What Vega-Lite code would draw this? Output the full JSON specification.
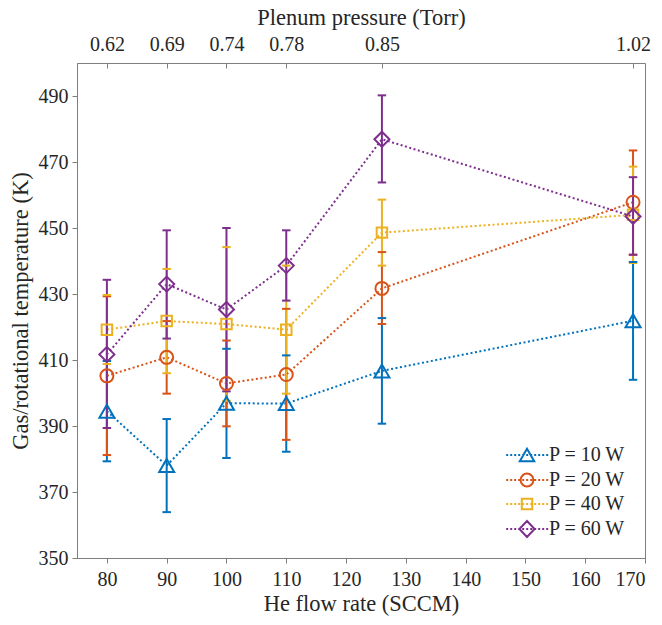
{
  "$schema": "https://vega.github.io/schema/vega-lite/v6.json",
  "width": 568,
  "height": 495,
  "autosize": {"type": "none"},
  "padding": {"left": 77, "top": 63, "right": 17, "bottom": 67},
  "background": "white",
  "config": {
    "view": {"stroke": "#7f7f7f", "strokeWidth": 1},
    "font": "Liberation Serif",
    "axis": {
      "labelFont": "Liberation Serif",
      "labelFontSize": 20,
      "labelColor": "#262626",
      "titleFont": "Liberation Serif",
      "titleFontSize": 22.5,
      "titleFontWeight": "normal",
      "titleColor": "#262626",
      "domainColor": "#7f7f7f",
      "tickColor": "#7f7f7f",
      "tickSize": 5,
      "grid": false
    },
    "legend": {
      "labelFont": "Liberation Serif",
      "labelFontSize": 20,
      "labelColor": "#262626"
    }
  },
  "data": {
    "values": [
      {"flow": 80, "series": "P = 10 W", "T": 394.5, "lo": 379.3, "hi": 409.7},
      {"flow": 90, "series": "P = 10 W", "T": 378.0, "lo": 363.9, "hi": 392.1},
      {"flow": 100, "series": "P = 10 W", "T": 396.9, "lo": 380.3, "hi": 413.4},
      {"flow": 110, "series": "P = 10 W", "T": 396.8, "lo": 382.2, "hi": 411.4},
      {"flow": 126, "series": "P = 10 W", "T": 406.7, "lo": 390.7, "hi": 422.7},
      {"flow": 168, "series": "P = 10 W", "T": 421.9, "lo": 404.0, "hi": 439.7},
      {"flow": 80, "series": "P = 20 W", "T": 405.2, "lo": 381.2, "hi": 429.3},
      {"flow": 90, "series": "P = 20 W", "T": 410.8, "lo": 399.8, "hi": 421.8},
      {"flow": 100, "series": "P = 20 W", "T": 402.9, "lo": 389.9, "hi": 415.9},
      {"flow": 110, "series": "P = 20 W", "T": 405.6, "lo": 385.8, "hi": 425.5},
      {"flow": 126, "series": "P = 20 W", "T": 431.7, "lo": 420.9, "hi": 442.7},
      {"flow": 168, "series": "P = 20 W", "T": 457.8, "lo": 441.9, "hi": 473.5},
      {"flow": 80, "series": "P = 40 W", "T": 419.2, "lo": 408.8, "hi": 429.7},
      {"flow": 90, "series": "P = 40 W", "T": 421.8, "lo": 406.0, "hi": 437.6},
      {"flow": 100, "series": "P = 40 W", "T": 420.9, "lo": 397.6, "hi": 444.2},
      {"flow": 110, "series": "P = 40 W", "T": 419.2, "lo": 399.8, "hi": 438.6},
      {"flow": 126, "series": "P = 40 W", "T": 448.6, "lo": 438.6, "hi": 458.6},
      {"flow": 168, "series": "P = 40 W", "T": 454.0, "lo": 439.4, "hi": 468.6},
      {"flow": 80, "series": "P = 60 W", "T": 411.7, "lo": 389.4, "hi": 434.3},
      {"flow": 90, "series": "P = 60 W", "T": 433.0, "lo": 416.5, "hi": 449.3},
      {"flow": 100, "series": "P = 60 W", "T": 425.3, "lo": 400.5, "hi": 450.0},
      {"flow": 110, "series": "P = 60 W", "T": 438.6, "lo": 428.0, "hi": 449.3},
      {"flow": 126, "series": "P = 60 W", "T": 476.9, "lo": 463.8, "hi": 490.2},
      {"flow": 168, "series": "P = 60 W", "T": 453.5, "lo": 441.9, "hi": 465.4}
    ]
  },
  "resolve": {"axis": {"x": "independent"}},
  "layer": [
    {
      "description": "Legend key layer: each series as a dotted line with its marker.",
      "mark": {"type": "point", "filled": false, "strokeWidth": 2, "opacity": 0, "size": 256},
      "encoding": {
        "x": {
          "field": "flow", "type": "quantitative",
          "scale": {"domain": [75, 170], "nice": false, "zero": false},
          "axis": {"orient": "bottom", "title": "He flow rate (SCCM)", "values": [80, 90, 100, 110, 120, 130, 140, 150, 160, 170], "labelPadding": 6, "titlePadding": 3}
        },
        "y": {
          "field": "T", "type": "quantitative",
          "scale": {"domain": [350, 500], "nice": false, "zero": false},
          "axis": {"title": "Gas/rotational temperature (K)", "values": [350, 370, 390, 410, 430, 450, 470, 490], "labelPadding": 4, "titlePadding": 6}
        },
        "color": {
          "field": "series", "type": "nominal",
          "scale": {"domain": ["P = 10 W", "P = 20 W", "P = 40 W", "P = 60 W"], "range": ["#0072BD", "#D95319", "#EDB120", "#7E2F8E"]},
          "legend": {
            "title": null, "orient": "none", "legendX": 440, "legendY": 382, "padding": 0,
            "symbolOffset": 0, "symbolSize": 256, "symbolStrokeWidth": 2, "symbolOpacity": 1,
            "symbolFillColor": "transparent", "labelOffset": 12, "rowPadding": 3
          }
        },
        "shape": {
          "field": "series", "type": "nominal",
          "scale": {
            "domain": ["P = 10 W", "P = 20 W", "P = 40 W", "P = 60 W"],
            "range": [
              "M-2.6,0H-2.35M-2.1,0H-1.85M-1.6,0H-1.35M-1.1,0H-0.85M-0.6,0H-0.35M-0.1,0H0.15M0.4,0H0.65M0.9,0H1.15M1.4,0H1.65M1.9,0H2.15M2.4,0H2.65M0,-0.78L-0.9,0.78L0.9,0.78Z",
              "M-2.6,0H-2.35M-2.1,0H-1.85M-1.6,0H-1.35M-1.1,0H-0.85M-0.6,0H-0.35M-0.1,0H0.15M0.4,0H0.65M0.9,0H1.15M1.4,0H1.65M1.9,0H2.15M2.4,0H2.65M0.8,0A0.8,0.8 0 1,1 -0.8,0A0.8,0.8 0 1,1 0.8,0Z",
              "M-2.6,0H-2.35M-2.1,0H-1.85M-1.6,0H-1.35M-1.1,0H-0.85M-0.6,0H-0.35M-0.1,0H0.15M0.4,0H0.65M0.9,0H1.15M1.4,0H1.65M1.9,0H2.15M2.4,0H2.65M-0.65,-0.65H0.65V0.65H-0.65Z",
              "M-2.6,0H-2.35M-2.1,0H-1.85M-1.6,0H-1.35M-1.1,0H-0.85M-0.6,0H-0.35M-0.1,0H0.15M0.4,0H0.65M0.9,0H1.15M1.4,0H1.65M1.9,0H2.15M2.4,0H2.65M0,-1.0L0.95,0L0,1.0L-0.95,0Z"
            ]
          },
          "legend": {
            "title": null, "orient": "none", "legendX": 440, "legendY": 382, "padding": 0,
            "symbolOffset": 0, "symbolSize": 256, "symbolStrokeWidth": 2, "symbolOpacity": 1,
            "symbolFillColor": "transparent", "labelOffset": 12, "rowPadding": 3
          }
        }
      }
    },
    {
      "mark": {"type": "line", "strokeWidth": 2, "strokeDash": [2, 2.5], "strokeCap": "butt"},
      "encoding": {
        "x": {"field": "flow", "type": "quantitative", "axis": null},
        "y": {"field": "T", "type": "quantitative"},
        "color": {"field": "series", "type": "nominal"},
        "detail": {"field": "series"}
      }
    },
    {
      "mark": {"type": "rule", "strokeWidth": 2},
      "encoding": {
        "x": {
          "field": "flow", "type": "quantitative",
          "axis": {
            "orient": "top", "title": "Plenum pressure (Torr)",
            "values": [80, 90, 100, 110, 126, 168],
            "labelExpr": "datum.value == 80 ? '0.62' : datum.value == 90 ? '0.69' : datum.value == 100 ? '0.74' : datum.value == 110 ? '0.78' : datum.value == 126 ? '0.85' : '1.02'",
            "tickSize": -5, "labelPadding": 14, "titlePadding": 5, "domain": false
          }
        },
        "y": {"field": "lo", "type": "quantitative"},
        "y2": {"field": "hi"},
        "color": {"field": "series", "type": "nominal"}
      }
    },
    {
      "mark": {"type": "point", "shape": "stroke", "size": 72, "strokeWidth": 2, "filled": false, "opacity": 1},
      "encoding": {
        "x": {"field": "flow", "type": "quantitative", "axis": null},
        "y": {"field": "lo", "type": "quantitative"},
        "color": {"field": "series", "type": "nominal"}
      }
    },
    {
      "mark": {"type": "point", "shape": "stroke", "size": 72, "strokeWidth": 2, "filled": false, "opacity": 1},
      "encoding": {
        "x": {"field": "flow", "type": "quantitative", "axis": null},
        "y": {"field": "hi", "type": "quantitative"},
        "color": {"field": "series", "type": "nominal"}
      }
    },
    {
      "transform": [{"filter": {"field": "series", "equal": "P = 10 W"}}],
      "mark": {"type": "point", "shape": "triangle-up", "size": 225, "filled": false, "strokeWidth": 2, "opacity": 1},
      "encoding": {
        "x": {"field": "flow", "type": "quantitative", "axis": null},
        "y": {"field": "T", "type": "quantitative"},
        "color": {"field": "series", "type": "nominal"}
      }
    },
    {
      "transform": [{"filter": {"field": "series", "equal": "P = 20 W"}}],
      "mark": {"type": "point", "shape": "circle", "size": 169, "filled": false, "strokeWidth": 2, "opacity": 1},
      "encoding": {
        "x": {"field": "flow", "type": "quantitative", "axis": null},
        "y": {"field": "T", "type": "quantitative"},
        "color": {"field": "series", "type": "nominal"}
      }
    },
    {
      "transform": [{"filter": {"field": "series", "equal": "P = 40 W"}}],
      "mark": {"type": "point", "shape": "square", "size": 110, "filled": false, "strokeWidth": 2, "opacity": 1},
      "encoding": {
        "x": {"field": "flow", "type": "quantitative", "axis": null},
        "y": {"field": "T", "type": "quantitative"},
        "color": {"field": "series", "type": "nominal"}
      }
    },
    {
      "transform": [{"filter": {"field": "series", "equal": "P = 60 W"}}],
      "mark": {"type": "point", "shape": "diamond", "size": 225, "filled": false, "strokeWidth": 2, "opacity": 1},
      "encoding": {
        "x": {"field": "flow", "type": "quantitative", "axis": null},
        "y": {"field": "T", "type": "quantitative"},
        "color": {"field": "series", "type": "nominal"}
      }
    }
  ]
}
